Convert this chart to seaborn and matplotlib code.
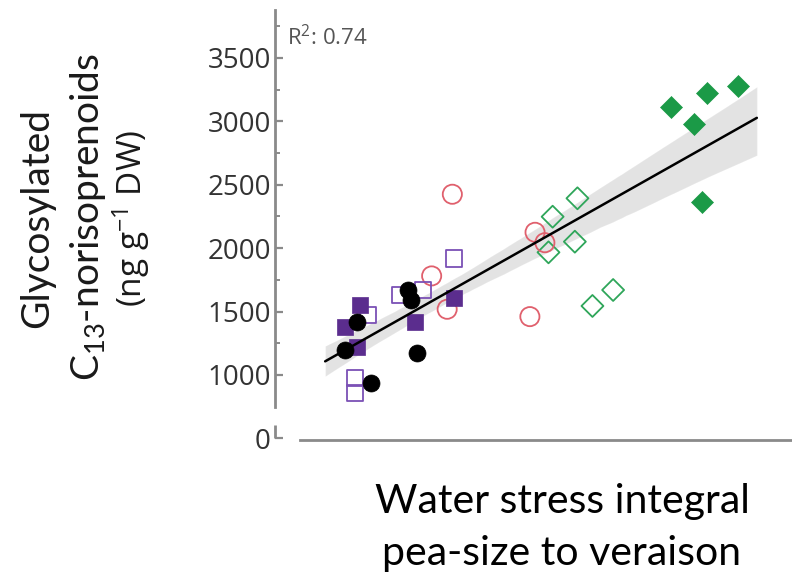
import numpy as np
import pandas as pd
import matplotlib
matplotlib.use("Agg")
import matplotlib.pyplot as plt
import matplotlib.transforms as mtransforms
import seaborn as sns

# ---- data (x in arbitrary water-stress units) ----
green_filled_x = [76.5, 83.5, 89.5, 81.1, 82.5]
green_filled_y = [3116, 3222, 3279, 2979, 2367]
green_open_x = [58.5, 53.7, 58.0, 52.9, 65.4, 61.4]
green_open_y = [2393, 2248, 2051, 1967, 1670, 1544]
red_open_x = [34.3, 50.3, 52.2, 30.3, 33.3, 49.3]
red_open_y = [2425, 2125, 2043, 1781, 1518, 1460]
purple_open_x = [34.6, 24.2, 28.6, 18.0, 15.5, 15.5]
purple_open_y = [1920, 1631, 1670, 1473, 974, 858]
purple_filled_x = [34.6, 16.4, 13.5, 27.1, 15.8]
purple_filled_y = [1610, 1552, 1381, 1420, 1223]
black_x = [25.8, 26.4, 15.8, 13.5, 27.4, 18.6]
black_y = [1670, 1590, 1420, 1197, 1176, 939]

ytick_values = [500, 1000, 1500, 2000, 2500, 3000, 3500]
ytick_labels = ["0", "1000", "1500", "2000", "2500", "3000", "3500"]
yminor_values = [1250, 1750, 2250, 2750, 3250, 3750]
r2_text = "R$\\mathregular{^2}$: 0.74"

groups = [
    ("green_filled", green_filled_x, green_filled_y),
    ("green_open", green_open_x, green_open_y),
    ("red_open", red_open_x, red_open_y),
    ("purple_open", purple_open_x, purple_open_y),
    ("purple_filled", purple_filled_x, purple_filled_y),
    ("black", black_x, black_y),
]
df = pd.concat(
    [pd.DataFrame({"group": g, "x": xs, "y": ys}) for g, xs, ys in groups],
    ignore_index=True,
)

styles = {
    "green_filled": dict(marker="D", s=125, facecolor="#1b9a47", edgecolor="#1b9a47", linewidth=0.5),
    "green_open": dict(marker="D", s=125, facecolor="none", edgecolor="#2fa65a", linewidth=1.3),
    "red_open": dict(marker="o", s=190, facecolor="none", edgecolor="#e0606d", linewidth=1.3),
    "purple_open": dict(marker="s", s=140, facecolor="none", edgecolor="#7b50b5", linewidth=1.3),
    "purple_filled": dict(marker="s", s=125, facecolor="#5b2d8e", edgecolor="#5b2d8e", linewidth=0.5),
    "black": dict(marker="o", s=150, facecolor="black", edgecolor="black", linewidth=0.5),
}

sns.set_theme(style="white")
plt.rcParams["font.family"] = ["Open Sans", "DejaVu Sans"]

fig = plt.figure(figsize=(7.92, 5.80), dpi=100)
ax = fig.add_axes([275 / 792, 140 / 580, 517 / 792, 430 / 580])

for g, _, _ in groups:
    sub = df[df["group"] == g]
    sns.scatterplot(data=sub, x="x", y="y", ax=ax, zorder=2, legend=False, **styles[g])

# regression line + CI band over the drawn range of the reference
ax.set_xlim(9.7, 93.2)
sns.regplot(data=df, x="x", y="y", ax=ax, scatter=False, truncate=False, ci=88,
            color="black", seed=0, line_kws=dict(linewidth=1.8, zorder=3))
for coll in ax.collections:
    if isinstance(coll, matplotlib.collections.PolyCollection):
        coll.set_alpha(0.11)
        coll.set_zorder(1)
ax.set_xlim(0, 100)
ax.set_ylim(487, 3878)

# axes styling
spine_color = "#8a8a8a"
for side in ["top", "right"]:
    ax.spines[side].set_visible(False)
ax.spines["left"].set_color(spine_color)
ax.spines["left"].set_linewidth(2.0)
ax.spines["left"].set_bounds(748, 3878)
ax.spines["bottom"].set_color(spine_color)
ax.spines["bottom"].set_linewidth(2.0)
ax.spines["bottom"].set_bounds(4.8, 100)

ax.set_yticks(ytick_values)
ax.set_yticklabels(ytick_labels)
ax.set_yticks(yminor_values, minor=True)
ax.set_xticks([])
ax.tick_params(axis="y", which="major", direction="in", length=6, width=1.6,
               color=spine_color, labelsize=20, labelcolor="#333333", pad=3, left=True)
ax.tick_params(axis="y", which="minor", direction="in", length=3.5, width=1.4,
               color=spine_color, left=True)
ax.set_xlabel("")
ax.set_ylabel("")

# short "L" piece of the broken axis at zero
blend = mtransforms.blended_transform_factory(ax.transAxes, ax.transData)
ax.plot([0, 0], [606, 500], transform=blend, color=spine_color, lw=2.0,
        clip_on=False, solid_capstyle="butt")

# R^2 annotation
fig.text(287 / 792, 1 - 38 / 580, r2_text, ha="left", va="center",
         fontsize=16, color="#555555", family=["Open Sans", "DejaVu Sans"])

# y label (three lines, rotated)
fig.text(37 / 792, 1 - 218 / 580, "Glycosylated", rotation=90, ha="center", va="center",
         fontsize=28, color="#1a1a1a", family=["Lato", "DejaVu Sans"])
fig.text(88 / 792, 1 - 217 / 580, "$\\mathregular{C_{13}}$-norisoprenoids", rotation=90,
         ha="center", va="center", fontsize=28, color="#1a1a1a", family=["Lato", "DejaVu Sans"])
fig.text(131 / 792, 1 - 218 / 580, "(ng g$\\mathregular{^{-1}}$ DW)", rotation=90,
         ha="center", va="center", fontsize=24, color="#1a1a1a", family=["Open Sans", "DejaVu Sans"])

# x label (two lines)
fig.text(562 / 792, 1 - 502 / 580, "Water stress integral", ha="center", va="center",
         fontsize=29.5, color="black", family=["Lato", "DejaVu Sans"])
fig.text(562 / 792, 1 - 553 / 580, "pea-size to veraison", ha="center", va="center",
         fontsize=29.5, color="black", family=["Lato", "DejaVu Sans"])

fig.savefig("out.png", dpi=100)
